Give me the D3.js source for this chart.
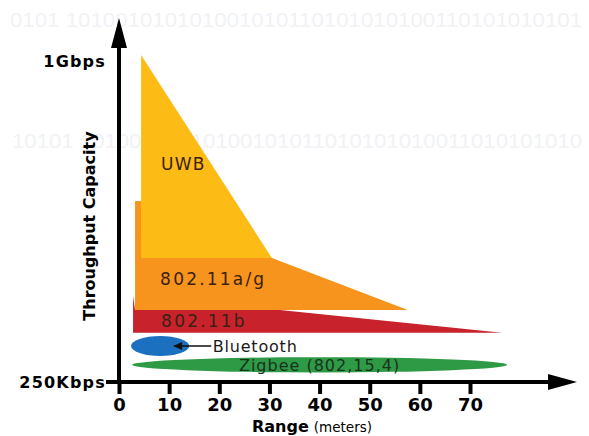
<html>

<head>
    <script src="https://d3js.org/d3.v7.min.js"></script>
    <style>
        body { margin: 0; background: #fff; }
        svg { display: block; }
    </style>
</head>

<body>
    <div id="chart">
        <svg width="589" height="436"></svg>
    </div>
    <script>
        // x: range in meters, y: throughput in Mbps (log)
        var rangeTicks = [0, 10, 20, 30, 40, 50, 60, 70]
        var capTicks = [0.25, 1000]
        var capTickLabels = ["250Kbps", "1Gbps"]

        // polygons as [meters, Mbps]
        var uwbShape = [[4.4, 1167], [30.5, 6.15], [4.4, 6.15]]
        var wlanAGShape = [[3.2, 1.61], [3.2, 26.8], [4.4, 26.8], [30.5, 6.15], [57.6, 1.61]]
        var wlanBShape = [[2.8, 0.89], [2.8, 2.31], [3.2, 1.61], [32.1, 1.61], [76.4, 0.89]]

        // ellipses: [min m, max m], [min Mbps, max Mbps]
        var bluetoothRange = [2.4, 14.0]
        var bluetoothRate = [0.49, 0.82]
        var zigbeeRange = [2.6, 77.4]
        var zigbeeRate = [0.32, 0.475]

        var svg = d3.select("#chart svg")

        var rangeScale = d3.scaleLinear()
            .domain([0, 70])
            .range([119, 470])

        var capScale = d3.scaleLog()
            .domain([0.25, 1000])
            .range([382, 61])

        var boldFont = "DejaVu Sans, Verdana, sans-serif"
        var labelFont = "DejaVu Sans, Verdana, sans-serif"

        // faint binary rows in background
        var binRows = [
            { x: 10, y: 27, t: "0101 101001010101001010110101010100110101010101" },
            { x: 12, y: 148, t: "10101 10100101010100101011010101010011010101010" }
        ]
        svg.selectAll(".bin")
            .data(binRows)
            .enter()
            .append("text")
            .attr("class", "bin")
            .attr("x", function(d) { return d.x })
            .attr("y", function(d) { return d.y })
            .attr("textLength", function(d) { return 582 - d.x })
            .attr("lengthAdjust", "spacingAndGlyphs")
            .style("font-family", "Liberation Sans, Arial, sans-serif")
            .style("font-size", "20px")
            .style("fill", "#f0f2f6")
            .text(function(d) { return d.t })

        var line = d3.line()
            .x(function(d) { return rangeScale(d[0]) })
            .y(function(d) { return capScale(d[1]) })
            .curve(d3.curveLinearClosed)

        var shapes = [
            { pts: wlanBShape, fill: "#c8232c" },
            { pts: wlanAGShape, fill: "#f7941d" },
            { pts: uwbShape, fill: "#fdbb16" }
        ]
        svg.selectAll(".area")
            .data(shapes)
            .enter()
            .append("path")
            .attr("class", "area")
            .attr("d", function(d) { return line(d.pts) })
            .style("fill", function(d) { return d.fill })

        var ellipses = [
            { r: bluetoothRange, c: bluetoothRate, fill: "#1b70c0" },
            { r: zigbeeRange, c: zigbeeRate, fill: "#2f9a46" }
        ]
        svg.selectAll(".ell")
            .data(ellipses)
            .enter()
            .append("ellipse")
            .attr("class", "ell")
            .attr("cx", function(d) { return (rangeScale(d.r[0]) + rangeScale(d.r[1])) / 2 })
            .attr("cy", function(d) { return (capScale(d.c[0]) + capScale(d.c[1])) / 2 })
            .attr("rx", function(d) { return (rangeScale(d.r[1]) - rangeScale(d.r[0])) / 2 })
            .attr("ry", function(d) { return (capScale(d.c[0]) - capScale(d.c[1])) / 2 })
            .style("fill", function(d) { return d.fill })

        // labels inside shapes
        var labels = [
            { t: "UWB", m: 8.4, v: 70, sp: 1.2 },
            { t: "802.11a/g", m: 8.2, v: 3.6, sp: 2.2 },
            { t: "802.11b", m: 8.4, v: 1.22, sp: 2.2 }
        ]
        svg.selectAll(".lab")
            .data(labels)
            .enter()
            .append("text")
            .attr("class", "lab")
            .attr("x", function(d) { return rangeScale(d.m) })
            .attr("y", function(d) { return capScale(d.v) })
            .attr("dy", "0.36em")
            .style("font-family", labelFont)
            .style("font-size", "17px")
            .style("letter-spacing", function(d) { return d.sp + "px" })
            .style("fill", "#3a2113")
            .text(function(d) { return d.t })

        // bluetooth pointer
        var btY = (capScale(bluetoothRate[0]) + capScale(bluetoothRate[1])) / 2
        svg.append("line")
            .attr("x1", rangeScale(11))
            .attr("x2", rangeScale(18.4))
            .attr("y1", btY)
            .attr("y2", btY)
            .style("stroke", "#111")
            .style("stroke-width", 1.5)
        svg.append("path")
            .attr("d", "M" + rangeScale(10.8) + "," + btY + "l9,-4l0,8z")
            .style("fill", "#111")
        svg.append("text")
            .attr("x", rangeScale(18.7))
            .attr("y", btY)
            .attr("dy", "0.36em")
            .style("font-family", labelFont)
            .style("font-size", "16px")
            .style("letter-spacing", "0.8px")
            .style("fill", "#1a1a1a")
            .text("Bluetooth")

        svg.append("text")
            .attr("x", (rangeScale(zigbeeRange[0]) + rangeScale(zigbeeRange[1])) / 2)
            .attr("y", (capScale(zigbeeRate[0]) + capScale(zigbeeRate[1])) / 2)
            .attr("dy", "0.38em")
            .attr("text-anchor", "middle")
            .style("font-family", labelFont)
            .style("font-size", "16px")
            .style("letter-spacing", "1px")
            .style("fill", "#17321d")
            .text("Zigbee (802,15,4)")

        // axes
        var x0 = rangeScale(0), y0 = capScale(0.25)
        var rangeAxis = d3.axisBottom(rangeScale)
            .tickValues(rangeTicks)
            .tickSize(12)
            .tickPadding(4)
        var gx = svg.append("g")
            .attr("transform", "translate(0," + y0 + ")")
            .call(rangeAxis)
        gx.select(".domain").remove()
        gx.selectAll(".tick line").style("stroke", "#000").style("stroke-width", 4)
        gx.selectAll(".tick text")
            .style("font-family", boldFont)
            .style("font-weight", "bold")
            .style("font-size", "18px")
            .style("fill", "#000")

        var capAxis = d3.axisLeft(capScale)
            .tickValues(capTicks)
            .tickFormat(function(d, i) { return capTickLabels[i] })
            .tickSize(0)
            .tickPadding(13)
        var gy = svg.append("g")
            .attr("transform", "translate(" + x0 + ",0)")
            .call(capAxis)
        gy.select(".domain").remove()
        gy.selectAll(".tick text")
            .style("font-family", boldFont)
            .style("font-weight", "bold")
            .style("font-size", "16px")
            .style("letter-spacing", "1.2px")
            .style("fill", "#000")

        // axis lines with arrows
        svg.append("line")
            .attr("x1", 106).attr("x2", 552)
            .attr("y1", y0).attr("y2", y0)
            .style("stroke", "#000").style("stroke-width", 4)
        svg.append("path")
            .attr("d", "M577," + y0 + "L548," + (y0 - 8) + "L548," + (y0 + 8) + "Z")
            .style("fill", "#000")
        svg.append("line")
            .attr("x1", x0).attr("x2", x0)
            .attr("y1", y0 + 2).attr("y2", 45)
            .style("stroke", "#000").style("stroke-width", 4)
        svg.append("path")
            .attr("d", "M" + x0 + ",18L" + (x0 - 8) + ",48L" + (x0 + 8) + ",48Z")
            .style("fill", "#000")

        // axis titles
        svg.append("text")
            .attr("transform", "translate(95,226) rotate(-90)")
            .attr("text-anchor", "middle")
            .style("font-family", boldFont)
            .style("font-weight", "bold")
            .style("font-size", "16px")
            .text("Throughput Capacity")

        var xt = svg.append("text")
            .attr("x", 252)
            .attr("y", 432)
            .style("font-family", boldFont)
        xt.append("tspan")
            .style("font-weight", "bold")
            .style("font-size", "16px")
            .text("Range")
        xt.append("tspan")
            .attr("dx", 5)
            .style("font-size", "13.5px")
            .text("(meters)")
    </script>

</body>

</html>
